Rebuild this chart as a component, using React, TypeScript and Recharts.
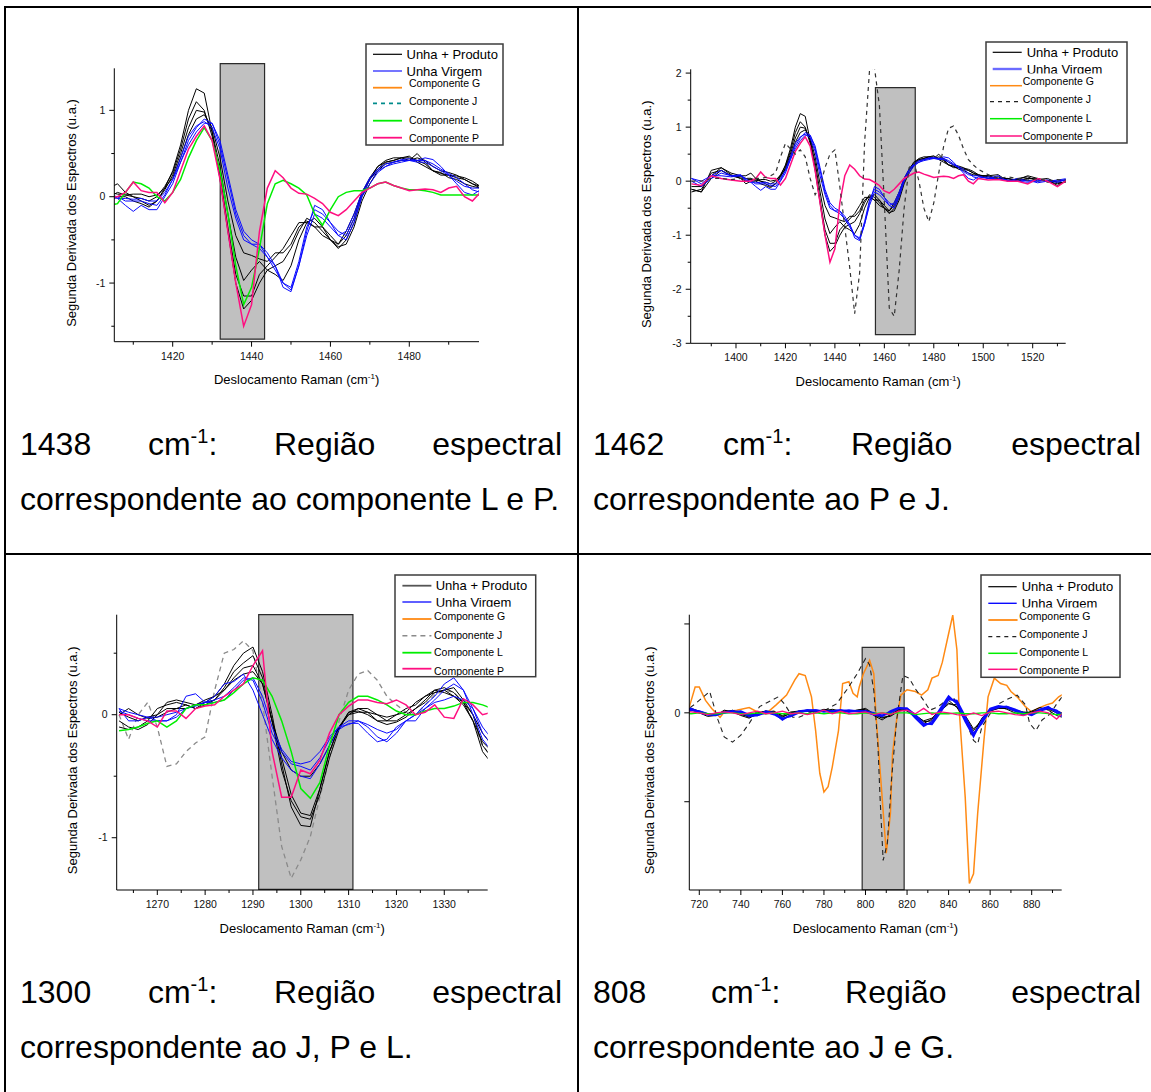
import React from "react";
import { Line, LineChart, ReferenceArea, XAxis, YAxis } from "recharts";

const FONT = "Arial, 'Liberation Sans', Helvetica, sans-serif";

const BLACK = "#000000";
const BLUE = "#0a0aff";
const GREEN = "#00ee00";
const PINK = "#ff0f80";
const ORANGE = "#ff8a14";
const TEAL = "#008b8b";
const GREY = "#8a8a8a";

// ---------- 1382–1534 cm-1 (painéis de 1438 e 1462 cm-1) ----------
const X_A = [
  1382, 1386, 1390, 1394, 1398, 1402,
  1404, 1406, 1408, 1410, 1412, 1414, 1416, 1418, 1420, 1422, 1424, 1426, 1428, 1430, 1432, 1434, 1436,
  1438, 1440, 1442, 1444, 1446, 1448, 1450, 1452, 1454, 1456, 1458, 1460, 1462, 1464, 1466, 1468,
  1470, 1472, 1474, 1476, 1478, 1480, 1482, 1484, 1486, 1488, 1490, 1492, 1494, 1496, 1498,
  1502, 1506, 1510, 1514, 1518, 1522, 1526, 1530, 1534,
];

// Unha + Produto
const PROD_A1 = [
  -0.15, -0.2, 0.2, 0.25, 0.15, 0.1,
  0.1, 0.15, 0.05, 0.0, -0.05, -0.1, -0.05, 0.1, 0.3, 0.6, 1.0, 1.25, 1.2, 0.75, 0.2, -0.4, -1.0,
  -1.3, -1.2, -1.0, -0.85, -0.8, -0.75, -0.6, -0.4, -0.25, -0.3, -0.4, -0.5, -0.6, -0.5, -0.3, 0.0,
  0.2, 0.35, 0.42, 0.45, 0.45, 0.42, 0.5, 0.4, 0.3, 0.27, 0.25, 0.22, 0.2, 0.15, 0.1,
  0.1, 0.05, 0.05, 0.0, 0.05, 0.05, 0.0, -0.05, 0.0,
];
const PROD_A2 = [
  -0.2, -0.15, 0.15, 0.2, 0.1, 0.05,
  0.0, 0.05, 0.02, 0.0, -0.02, -0.05, 0.0, 0.12, 0.28, 0.55, 0.9, 1.1, 1.0, 0.7, 0.25, -0.35, -0.9,
  -1.15, -1.15, -0.9, -0.8, -0.7, -0.6, -0.45, -0.3, -0.3, -0.35, -0.35, -0.45, -0.55, -0.45, -0.25, 0.05,
  0.22, 0.35, 0.4, 0.42, 0.45, 0.47, 0.4, 0.35, 0.3, 0.28, 0.22, 0.2, 0.15, 0.12, 0.1,
  0.1, 0.12, 0.0, 0.05, 0.08, 0.0, 0.02, -0.08, 0.02,
];
const PROD_A3 = [
  -0.1, -0.1, 0.1, 0.25, 0.12, 0.05,
  -0.05, 0.0, 0.0, -0.05, -0.08, -0.12, -0.05, 0.08, 0.25, 0.5, 0.8, 1.0, 0.98, 0.75, 0.35, -0.2, -0.7,
  -0.97, -0.85, -0.75, -0.85, -0.9, -0.97, -0.8, -0.5, -0.3, -0.25, -0.35, -0.5, -0.55, -0.4, -0.2, 0.05,
  0.2, 0.32, 0.4, 0.42, 0.45, 0.45, 0.42, 0.38, 0.3, 0.25, 0.25, 0.24, 0.22, 0.18, 0.12,
  0.05, 0.08, 0.02, 0.03, 0.1, 0.05, -0.02, 0.0, 0.03,
];
const PROD_A4 = [
  -0.15, -0.2, 0.05, 0.2, 0.1, 0.08,
  0.05, 0.03, 0.02, 0.03, 0.03, 0.0, 0.02, 0.1, 0.22, 0.45, 0.72, 0.9, 0.95, 0.8, 0.45, -0.05, -0.45,
  -0.65, -0.68, -0.72, -0.75, -0.65, -0.65, -0.55, -0.35, -0.28, -0.35, -0.45, -0.5, -0.58, -0.55, -0.35, -0.05,
  0.15, 0.3, 0.38, 0.4, 0.42, 0.42, 0.45, 0.42, 0.35, 0.3, 0.28, 0.25, 0.2, 0.15, 0.12,
  0.08, 0.05, 0.05, 0.02, 0.05, 0.03, 0.05, -0.03, -0.02,
];

// Unha Virgem
const VIRG_A1 = [
  0.05, -0.05, 0.1, 0.2, 0.1, 0.1,
  0.05, -0.02, -0.1, -0.17, -0.1, -0.15, -0.15, 0.0, 0.15, 0.4, 0.65, 0.8, 0.9, 0.85, 0.6, 0.2, -0.2,
  -0.45, -0.55, -0.55, -0.7, -0.8, -1.05, -1.1, -0.8, -0.4, -0.1, -0.15, -0.3, -0.45, -0.5, -0.3, 0.0,
  0.15, 0.28, 0.35, 0.4, 0.42, 0.42, 0.42, 0.45, 0.43, 0.35, 0.25, 0.15, 0.05, 0.02, 0.08,
  0.05, 0.1, 0.0, 0.0, -0.02, 0.0, 0.02, 0.0, 0.03,
];
const VIRG_A2 = [
  0.0, -0.1, 0.05, 0.15, 0.1, 0.12,
  0.02, 0.0, -0.05, -0.05, -0.05, -0.08, -0.1, 0.02, 0.2, 0.45, 0.7, 0.82, 0.87, 0.8, 0.55, 0.1, -0.25,
  -0.5, -0.55, -0.6, -0.7, -0.85, -1.0, -1.05, -0.75, -0.35, -0.15, -0.2, -0.3, -0.4, -0.45, -0.25, 0.02,
  0.2, 0.3, 0.35, 0.38, 0.4, 0.42, 0.4, 0.4, 0.35, 0.3, 0.25, 0.18, 0.12, 0.1, 0.1,
  0.05, 0.05, 0.02, 0.0, 0.02, -0.03, 0.0, 0.02, 0.05,
];
const VIRG_A3 = [
  0.05, 0.0, 0.1, 0.1, 0.08, 0.1,
  0.0, -0.02, -0.02, -0.03, -0.02, -0.05, -0.05, 0.05, 0.2, 0.4, 0.6, 0.75, 0.85, 0.85, 0.65, 0.25, -0.15,
  -0.4, -0.5, -0.55, -0.65, -0.8, -1.0, -1.08, -0.8, -0.45, -0.2, -0.25, -0.35, -0.45, -0.4, -0.2, 0.05,
  0.22, 0.32, 0.38, 0.4, 0.43, 0.44, 0.42, 0.42, 0.38, 0.32, 0.27, 0.22, 0.15, 0.08, 0.05,
  0.08, 0.05, 0.0, 0.05, 0.0, 0.02, 0.0, -0.02, 0.03,
];

const COMP_L_A = [
  null, null, null, null, null, null,
  -0.1, -0.08, 0.05, 0.17, 0.15, 0.1, 0.0, -0.05, 0.05, 0.2, 0.45, 0.65, 0.8, 0.65, 0.3, -0.2, -0.8,
  -1.25, -1.05, -0.6, -0.08, 0.15, 0.19, 0.15, 0.1, 0.02, -0.2, -0.33, -0.15, 0.0, 0.05, 0.07, 0.07,
  0.1, 0.15, 0.17, 0.13, 0.1, 0.08, 0.08, 0.07, 0.05, 0.02, 0.02, 0.02, 0.02, 0.02, 0.02,
  null, null, null, null, null, null, null, null, null,
];
const COMP_P_A = [
  -0.05, -0.08, 0.1, 0.05, 0.02, 0.0,
  0.0, 0.0, 0.05, 0.17, 0.07, 0.05, 0.05, -0.07, 0.05, 0.3, 0.55, 0.7, 0.82, 0.65, 0.2, -0.4, -1.0,
  -1.5, -1.25, -0.4, 0.1, 0.3, 0.22, 0.1, 0.04, 0.03, -0.02, -0.08, -0.18, -0.22, -0.15, -0.05, 0.05,
  0.1, 0.15, 0.17, 0.13, 0.1, 0.07, 0.08, 0.09, 0.08, 0.05, 0.1, 0.12, 0.0, -0.05, 0.05,
  0.02, 0.03, 0.0, 0.0, -0.05, 0.05, 0.0, -0.1, 0.02,
];
const COMP_J_A = [
  0.0, 0.0, 0.05, 0.05, 0.03, 0.05,
  0.05, 0.05, 0.05, 0.05, 0.07, 0.1, 0.15, 0.45, 0.7, 0.6, 0.5, 0.58, 0.45, 0.05, -0.25, -0.1, 0.25,
  0.5, 0.58, -0.1, -0.85, -1.6, -2.45, -1.7, 0.7, 2.05, 2.1, 1.4, -0.4, -2.35, -2.5, -1.65, -0.5,
  0.25, 0.35, 0.0, -0.5, -0.75, -0.4, 0.15, 0.65, 0.98, 1.02, 0.85, 0.6, 0.4, 0.3, 0.22,
  0.12, 0.05, 0.08, 0.05, 0.02, 0.05, 0.0, 0.03, 0.02,
];

// ---------- 1262–1340 cm-1 (painel de 1300 cm-1) ----------
const X_C = [
  1262, 1264, 1266, 1268, 1270, 1272, 1274, 1276, 1278, 1280,
  1282, 1284, 1286, 1288, 1290, 1292, 1294, 1296, 1298, 1300,
  1302, 1304, 1306, 1308, 1310, 1312, 1314, 1316, 1318, 1320,
  1322, 1324, 1326, 1328, 1330, 1332, 1334, 1336, 1338, 1340,
];
const PROD_C1 = [
  -0.05, -0.1, -0.12, -0.08, 0.0, 0.1, 0.12, 0.1, 0.08, 0.1,
  0.15, 0.25, 0.4, 0.5, 0.55, 0.35, 0.0, -0.4, -0.75, -0.9,
  -0.91, -0.6, -0.3, -0.1, 0.0, 0.05, 0.05, 0.0, -0.05, -0.05,
  0.0, 0.05, 0.12, 0.2, 0.22, 0.18, 0.1, -0.05, -0.3, -0.4,
];
const PROD_C2 = [
  -0.1, -0.12, -0.1, -0.05, 0.05, 0.08, 0.1, 0.08, 0.05, 0.08,
  0.12, 0.22, 0.35, 0.42, 0.48, 0.3, -0.05, -0.45, -0.7, -0.83,
  -0.85, -0.65, -0.35, -0.12, 0.02, 0.03, 0.0, -0.05, -0.08, -0.06,
  -0.02, 0.05, 0.1, 0.18, 0.2, 0.22, 0.12, 0.0, -0.25, -0.35,
];
const PROD_C3 = [
  0.02, -0.02, -0.05, -0.02, 0.0, 0.05, 0.05, 0.05, 0.08, 0.12,
  0.15, 0.2, 0.3, 0.38, 0.4, 0.25, -0.05, -0.35, -0.65, -0.8,
  -0.82, -0.6, -0.3, -0.1, 0.0, 0.02, 0.02, -0.05, -0.05, 0.0,
  0.05, 0.08, 0.15, 0.2, 0.18, 0.15, 0.08, -0.05, -0.22, -0.3,
];
const PROD_C4 = [
  0.0, 0.05, 0.0, -0.03, -0.02, 0.02, 0.05, 0.08, 0.05, 0.1,
  0.12, 0.2, 0.28, 0.33, 0.35, 0.25, -0.05, -0.3, -0.45, -0.5,
  -0.5, -0.4, -0.25, -0.1, 0.02, 0.05, 0.02, 0.0, -0.02, 0.0,
  0.02, 0.1, 0.15, 0.18, 0.2, 0.15, 0.1, 0.0, -0.15, -0.25,
];
const VIRG_C1 = [
  0.05, -0.05, -0.05, -0.02, -0.05, -0.05, 0.0, 0.15, 0.17, 0.1,
  0.15, 0.25, 0.27, 0.33, 0.2, 0.0, -0.2, -0.35, -0.45, -0.5,
  -0.52, -0.4, -0.25, -0.12, -0.07, -0.07, -0.15, -0.22, -0.2, -0.1,
  -0.05, 0.0, 0.08, 0.15, 0.25, 0.3, 0.2, 0.0, -0.2, -0.3,
];
const VIRG_C2 = [
  0.03, 0.0, -0.03, -0.05, -0.05, -0.05, -0.02, 0.05, 0.08, 0.1,
  0.12, 0.15, 0.22, 0.3, 0.28, 0.1, -0.15, -0.3, -0.4, -0.42,
  -0.45, -0.35, -0.2, -0.1, -0.05, -0.05, -0.1, -0.18, -0.22, -0.15,
  -0.05, -0.05, 0.05, 0.12, 0.2, 0.25, 0.2, 0.05, -0.15, -0.25,
];
const VIRG_C3 = [
  0.05, 0.02, 0.0, -0.02, -0.02, 0.0, 0.02, 0.05, 0.07, 0.1,
  0.1, 0.12, 0.2, 0.28, 0.3, 0.15, -0.1, -0.28, -0.38, -0.4,
  -0.38, -0.3, -0.18, -0.1, -0.08, -0.05, -0.08, -0.12, -0.15, -0.12,
  -0.05, 0.0, 0.05, 0.1, 0.12, 0.15, 0.12, 0.05, -0.1, -0.2,
];
const COMP_L_C = [
  -0.13, -0.12, -0.1, -0.07, -0.05, -0.1, -0.05, 0.05, 0.08, 0.08,
  0.1, 0.12, 0.18, 0.25, 0.3, 0.28, 0.15, -0.05, -0.3, -0.6,
  -0.68, -0.55, -0.25, 0.0, 0.1, 0.15, 0.15, 0.12, 0.08, 0.03,
  0.0, 0.0, 0.03, 0.05, 0.05, 0.07, 0.1, 0.1, 0.08, 0.05,
];
const COMP_P_C = [
  0.0, 0.0, -0.03, -0.05, -0.1, 0.03, 0.03, -0.03, 0.05, 0.07,
  0.08, 0.15, 0.2, 0.25, 0.4, 0.52, -0.3, -0.67, -0.67, -0.45,
  -0.48, -0.37, -0.15, 0.0, 0.07, 0.12, 0.12, 0.1, 0.09, 0.12,
  0.08, 0.0, 0.02, 0.08, -0.02, -0.03, 0.13, 0.08, 0.0, 0.02,
];
const COMP_J_C = [
  0.0, -0.2, 0.0, 0.1, -0.1, -0.42, -0.4, -0.3, -0.23, -0.18,
  0.2, 0.5, 0.53, 0.6, 0.52, 0.1, -0.5, -1.07, -1.33, -1.18,
  -0.99, -0.67, -0.35, -0.05, 0.2, 0.33, 0.36, 0.28, 0.15, 0.08,
  0.02, 0.0, 0.08, 0.16, 0.2, 0.18, 0.1, -0.05, -0.25, -0.35,
];

// ---------- 712–896 cm-1 (painel de 808 cm-1) ----------
const X_D = [
  712, 716, 720, 724, 728, 732, 736, 740, 744, 748,
  752, 756, 760, 764, 768, 772, 776, 780, 784, 788,
  792, 796, 800, 804, 808, 812, 816, 820, 824, 828,
  832, 836, 840, 844, 848, 852, 856, 860, 864, 868,
  872, 876, 880, 884, 888, 892, 896,
];
const PROD_D1 = [
  0.06, 0.04, 0.0, -0.04, -0.03, 0.03, 0.01, -0.03, -0.06, -0.01,
  0.02, 0.0, -0.05, 0.0, 0.01, 0.02, 0.01, 0.04, 0.02, 0.01,
  0.02, 0.03, 0.04, -0.03, -0.08, -0.02, 0.04, 0.02, -0.05, -0.12,
  -0.07, 0.04, 0.14, 0.06, -0.08, -0.24, -0.06, 0.04, 0.07, 0.04,
  0.0, -0.02, 0.02, 0.06, 0.03, -0.03, -0.06,
];
const PROD_D2 = [
  0.04, 0.03, 0.01, -0.02, -0.03, 0.02, 0.02, -0.02, -0.04, 0.0,
  0.02, 0.01, -0.03, 0.01, 0.02, 0.02, 0.02, 0.03, 0.03, 0.02,
  0.02, 0.02, 0.03, -0.02, -0.06, -0.03, 0.03, 0.03, -0.03, -0.09,
  -0.06, 0.03, 0.11, 0.07, -0.05, -0.2, -0.07, 0.03, 0.05, 0.05,
  0.02, 0.0, 0.01, 0.04, 0.04, 0.0, -0.03,
];
const PROD_D3 = [
  0.02, 0.05, 0.02, -0.01, -0.02, 0.0, 0.03, -0.01, -0.05, -0.02,
  0.01, 0.02, -0.04, -0.01, 0.02, 0.03, 0.02, 0.02, 0.04, 0.02,
  0.01, 0.03, 0.05, -0.01, -0.05, -0.04, 0.02, 0.04, -0.02, -0.1,
  -0.09, 0.02, 0.1, 0.09, -0.03, -0.18, -0.1, 0.02, 0.05, 0.06,
  0.03, 0.01, 0.0, 0.03, 0.05, 0.02, -0.01,
];
const VIRG_D1 = [
  0.03, 0.05, 0.01, -0.02, -0.03, 0.0, 0.02, 0.0, -0.04, -0.03,
  0.02, 0.0, -0.08, -0.02, 0.02, 0.03, 0.02, 0.02, 0.02, 0.03,
  0.02, 0.02, 0.01, -0.02, -0.04, 0.02, 0.06, 0.04, -0.06, -0.15,
  -0.1, 0.05, 0.19, 0.1, -0.1, -0.27, -0.08, 0.05, 0.08, 0.06,
  0.02, -0.02, -0.01, 0.04, 0.07, 0.0, -0.06,
];
const VIRG_D2 = [
  0.02, 0.03, 0.02, -0.01, -0.02, 0.01, 0.02, 0.01, -0.03, -0.02,
  0.01, -0.02, -0.07, -0.03, 0.01, 0.02, 0.03, 0.02, 0.01, 0.02,
  0.03, 0.02, 0.02, -0.01, -0.03, 0.01, 0.05, 0.05, -0.04, -0.13,
  -0.12, 0.03, 0.17, 0.12, -0.07, -0.25, -0.1, 0.04, 0.07, 0.07,
  0.03, -0.01, -0.02, 0.03, 0.06, 0.02, -0.05,
];
const VIRG_D3 = [
  0.04, 0.04, 0.0, -0.02, -0.01, 0.0, 0.01, 0.02, -0.02, -0.03,
  0.0, -0.01, -0.06, -0.04, 0.0, 0.03, 0.03, 0.01, 0.02, 0.03,
  0.01, 0.02, 0.02, 0.0, -0.03, 0.0, 0.05, 0.05, -0.02, -0.12,
  -0.13, 0.0, 0.15, 0.14, -0.04, -0.23, -0.12, 0.03, 0.06, 0.07,
  0.04, 0.0, -0.03, 0.02, 0.05, 0.03, -0.04,
];
const COMP_L_D = [
  0.0, -0.01, 0.0, -0.01, -0.01, 0.0, 0.0, -0.01, -0.01, 0.0,
  -0.01, 0.0, -0.01, -0.01, 0.0, -0.01, 0.0, -0.01, 0.0, 0.0,
  -0.01, -0.01, 0.0, -0.01, 0.0, -0.01, 0.0, 0.0, -0.02, -0.01,
  0.0, -0.01, -0.01, 0.0, -0.01, -0.01, 0.0, 0.0, -0.01, -0.01,
  0.0, -0.01, 0.0, 0.0, -0.01, -0.02, -0.01,
];
const COMP_P_D = [
  0.02, 0.01, 0.0, -0.02, 0.0, 0.01, 0.0, -0.02, 0.0, 0.02,
  -0.01, 0.0, 0.02, -0.01, 0.0, -0.02, 0.0, 0.03, -0.01, 0.02,
  -0.01, 0.0, 0.01, -0.02, 0.0, -0.02, 0.02, 0.03, -0.01, 0.05,
  -0.02, 0.01, 0.0, -0.02, -0.03, 0.0, -0.03, 0.01, 0.02, 0.0,
  -0.02, -0.03, 0.0, 0.02, 0.0, -0.07, 0.02,
];
const COMP_G_DX = [
  712, 715, 718, 720, 723, 726, 730, 732, 738, 744,
  748, 752, 757, 762, 766, 768, 771, 774, 776, 778,
  780, 782, 784, 787, 789, 792, 794, 796, 797, 799,
  802, 804, 805, 808, 810, 812, 813, 815, 817, 820,
  824, 827, 830, 832, 835, 837, 840, 842, 844, 845,
  848, 850, 852, 854, 857, 859, 862, 865, 868, 870,
  873, 877, 880, 883, 887, 890, 893, 896,
];
const COMP_G_D = [
  0.0, 0.05, 0.29, 0.29, 0.14, 0.05, -0.05, 0.01, 0.03, 0.06,
  0.01, -0.01, 0.09, 0.2, 0.37, 0.44, 0.42, 0.18, -0.2, -0.68,
  -0.89, -0.83, -0.61, -0.2, 0.33, 0.35, 0.22, 0.18, 0.29, 0.44,
  0.59, 0.44, -0.01, -0.95, -1.58, -1.13, -0.46, -0.08, 0.2, 0.26,
  0.24, 0.2, 0.26, 0.39, 0.42, 0.57, 0.89, 1.1, 0.71, 0.07,
  -0.95, -1.92, -1.81, -1.13, -0.31, 0.18, 0.39, 0.33, 0.31, 0.24,
  0.18, 0.07, 0.01, 0.05, 0.09, 0.11, 0.18, 0.22,
];
const COMP_J_DX = [
  712, 715, 718, 721, 725, 729, 732, 736, 740, 744,
  749, 753, 758, 761, 765, 768, 773, 779, 786, 791,
  796, 800, 802, 804, 806, 807, 808.5, 810.5, 812.5, 815,
  818, 821, 824, 828, 831, 835, 839, 842, 845, 848,
  852, 854, 856, 860, 864, 868, 873, 877, 879, 882,
  885, 889, 892, 896,
];
const COMP_J_D = [
  0.0, 0.05, 0.1, 0.16, 0.24, -0.08, -0.27, -0.33, -0.25, -0.12,
  0.07, 0.12, 0.18, 0.1, -0.05, -0.05, 0.0, 0.01, 0.1, 0.26,
  0.44, 0.61, 0.54, 0.25, -0.38, -0.95, -1.66, -1.47, -0.76, -0.08,
  0.42, 0.39, 0.27, 0.14, 0.03, 0.07, 0.14, 0.18, 0.07, -0.08,
  -0.31, -0.35, -0.16, -0.01, 0.1, 0.15, 0.2, 0.09, -0.12, -0.2,
  -0.08, -0.01, 0.1, 0.22,
];

const LEGEND_LABELS = [
  "Unha + Produto",
  "Unha Virgem",
  "Componente G",
  "Componente J",
  "Componente L",
  "Componente P",
];

type Series = { xs: number[]; ys: (number | null)[]; color: string; width: number; dash?: string };
type Panel = {
  box: { x: number; y: number; w: number; h: number };
  plot: { l: number; t: number; r: number; b: number };
  xDomain: [number, number];
  yDomain: [number, number];
  xMajor: number[];
  xMinor: number[];
  yMajor: number[];
  yMinor: number[];
  yLabelled: number[];
  yTitleDx: number;
  band: [number, number, number, number];
  series: Series[];
};

const samples = (xs: number[], prod: number[][], virg: number[][]): Series[] => [
  ...prod.map((ys) => ({ xs, ys, color: BLACK, width: 1 })),
  ...virg.map((ys) => ({ xs, ys, color: BLUE, width: 1 })),
];

const PANELS: Panel[] = [
  {
    box: { x: 10, y: 20, w: 560, h: 380 },
    plot: { l: 114.3, t: 68.3, r: 479, b: 341.7 },
    xDomain: [1405.19, 1497.68],
    yDomain: [-1.679, 1.487],
    xMajor: [1420, 1440, 1460, 1480],
    xMinor: [1410, 1430, 1450, 1470, 1490],
    yMajor: [-1, 0, 1],
    yMinor: [-1.5, -0.5, 0.5],
    yLabelled: [-1, 0, 1],
    yTitleDx: 42.6,
    band: [1432.05, 1443.3, -1.65, 1.54],
    series: [
      ...samples(X_A, [PROD_A1, PROD_A2, PROD_A3, PROD_A4], [VIRG_A1, VIRG_A2, VIRG_A3]),
      { xs: X_A, ys: COMP_L_A, color: GREEN, width: 1.5 },
      { xs: X_A, ys: COMP_P_A, color: PINK, width: 1.5 },
    ],
  },
  {
    box: { x: 585, y: 20, w: 560, h: 380 },
    plot: { l: 690.7, t: 69.3, r: 1065.7, b: 343.3 },
    xDomain: [1381.68, 1533.35],
    yDomain: [-3, 2.07],
    xMajor: [1400, 1420, 1440, 1460, 1480, 1500, 1520],
    xMinor: [1390, 1410, 1430, 1450, 1470, 1490, 1510, 1530],
    yMajor: [-3, -2, -1, 0, 1, 2],
    yMinor: [-2.5, -1.5, -0.5, 0.5, 1.5],
    yLabelled: [-3, -2, -1, 0, 1, 2],
    yTitleDx: 44,
    band: [1456.4, 1472.5, -2.84, 1.73],
    series: [
      ...samples(X_A, [PROD_A1, PROD_A2, PROD_A3, PROD_A4], [VIRG_A1, VIRG_A2, VIRG_A3]),
      { xs: X_A, ys: COMP_P_A, color: PINK, width: 1.5 },
      { xs: X_A, ys: COMP_J_A, color: "#333333", width: 1.2, dash: "4 4" },
    ],
  },
  {
    box: { x: 10, y: 565, w: 560, h: 380 },
    plot: { l: 116.7, t: 614.7, r: 487.7, b: 890 },
    xDomain: [1261.51, 1339.08],
    yDomain: [-1.425, 0.813],
    xMajor: [1270, 1280, 1290, 1300, 1310, 1320, 1330],
    xMinor: [1265, 1275, 1285, 1295, 1305, 1315, 1325, 1335],
    yMajor: [-1, 0],
    yMinor: [-0.5, 0.5],
    yLabelled: [-1, 0],
    yTitleDx: 44.4,
    band: [1291.2, 1310.9, -1.42, 0.813],
    series: [
      { xs: X_C, ys: COMP_J_C, color: GREY, width: 1.3, dash: "5 4" },
      ...samples(X_C, [PROD_C1, PROD_C2, PROD_C3, PROD_C4], [VIRG_C1, VIRG_C2, VIRG_C3]),
      { xs: X_C, ys: COMP_L_C, color: GREEN, width: 1.5 },
      { xs: X_C, ys: COMP_P_C, color: PINK, width: 1.5 },
    ],
  },
  {
    box: { x: 585, y: 565, w: 560, h: 380 },
    plot: { l: 689.3, t: 614.7, r: 1061.7, b: 890 },
    xDomain: [715.19, 894.44],
    yDomain: [-1.993, 1.104],
    xMajor: [720, 740, 760, 780, 800, 820, 840, 860, 880],
    xMinor: [730, 750, 770, 790, 810, 830, 850, 870, 890],
    yMajor: [-1, 0, 1],
    yMinor: [],
    yLabelled: [0],
    yTitleDx: 40.3,
    band: [798.4, 818.6, -1.99, 0.737],
    series: [
      { xs: COMP_G_DX, ys: COMP_G_D, color: ORANGE, width: 1.5 },
      { xs: COMP_J_DX, ys: COMP_J_D, color: "#222222", width: 1.1, dash: "5 4" },
      ...samples(X_D, [PROD_D1, PROD_D2, PROD_D3], [VIRG_D1, VIRG_D2, VIRG_D3]).map((s) =>
        s.color === BLUE ? { ...s, width: 1.6 } : s
      ),
      { xs: X_D, ys: COMP_L_D, color: GREEN, width: 1.3 },
      { xs: X_D, ys: COMP_P_D, color: PINK, width: 1.3 },
    ],
  },
];

type LegendRow = {
  color: string;
  width: number;
  dash?: string;
  x1: number;
  x2: number;
  lineY: number;
  textX: number;
  textY: number;
  size: number;
  clipY?: number;
};
type LegendSpec = { l: number; t: number; r: number; b: number; rows: LegendRow[] };

const LEGENDS: LegendSpec[] = [
  {
    l: 366, t: 44, r: 503, b: 145,
    rows: [
      { color: BLACK, width: 1.2, x1: 373, x2: 402, lineY: 54.3, textX: 406.5, textY: 54.3, size: 13 },
      { color: "#3a3aff", width: 1.4, x1: 373, x2: 402, lineY: 71, textX: 406.5, textY: 71, size: 13 },
      { color: ORANGE, width: 1.8, x1: 373, x2: 402, lineY: 87.7, textX: 409, textY: 83.3, size: 10.5 },
      { color: TEAL, width: 1.8, dash: "4 4", x1: 373, x2: 402, lineY: 103.3, textX: 409, textY: 101.3, size: 10.5 },
      { color: GREEN, width: 1.8, x1: 373, x2: 402, lineY: 120.7, textX: 409, textY: 120, size: 10.5 },
      { color: PINK, width: 1.8, x1: 373, x2: 402, lineY: 137.7, textX: 409, textY: 138.3, size: 10.5 },
    ],
  },
  {
    l: 986, t: 42, r: 1127, b: 143,
    rows: [
      { color: BLACK, width: 1.2, x1: 992.7, x2: 1021.7, lineY: 52.3, textX: 1026.7, textY: 52.3, size: 13 },
      { color: "#6b6bff", width: 2.4, x1: 992.7, x2: 1021.7, lineY: 69, textX: 1026.7, textY: 69, size: 13, clipY: 73.5 },
      { color: ORANGE, width: 1.5, x1: 990, x2: 1022, lineY: 85.7, textX: 1022.7, textY: 81.7, size: 10.5 },
      { color: "#222222", width: 1.3, dash: "4 4", x1: 990, x2: 1022, lineY: 101.7, textX: 1022.7, textY: 99.3, size: 10.5 },
      { color: GREEN, width: 1.5, x1: 990, x2: 1022, lineY: 118.7, textX: 1022.7, textY: 118.3, size: 10.5 },
      { color: PINK, width: 1.5, x1: 990, x2: 1022, lineY: 136, textX: 1022.7, textY: 136.7, size: 10.5 },
    ],
  },
  {
    l: 395.3, t: 575, r: 536, b: 676.7,
    rows: [
      { color: "#555555", width: 1.8, x1: 402.7, x2: 431.7, lineY: 585.7, textX: 436, textY: 585.7, size: 13 },
      { color: "#1a1aff", width: 1.4, x1: 402.7, x2: 431.7, lineY: 602, textX: 436, textY: 602, size: 13, clipY: 606.7 },
      { color: ORANGE, width: 1.8, x1: 402.7, x2: 431.7, lineY: 619, textX: 434.3, textY: 616, size: 10.5 },
      { color: GREY, width: 1.5, dash: "5 4", x1: 402.7, x2: 431.7, lineY: 635.7, textX: 434.3, textY: 635, size: 10.5 },
      { color: GREEN, width: 1.8, x1: 402.7, x2: 431.7, lineY: 652.7, textX: 434.3, textY: 652.7, size: 10.5 },
      { color: PINK, width: 1.8, x1: 402.7, x2: 431.7, lineY: 668.7, textX: 434.3, textY: 671.7, size: 10.5 },
    ],
  },
  {
    l: 981, t: 575, r: 1120, b: 677.3,
    rows: [
      { color: BLACK, width: 1.2, x1: 988.3, x2: 1016.7, lineY: 586.7, textX: 1021.7, textY: 586.7, size: 13 },
      { color: BLUE, width: 1.4, x1: 988.3, x2: 1016.7, lineY: 603.3, textX: 1021.7, textY: 603.3, size: 13, clipY: 607.5 },
      { color: ORANGE, width: 1.8, x1: 988.3, x2: 1017.5, lineY: 620, textX: 1019.3, textY: 616, size: 10.5 },
      { color: "#222222", width: 1.3, dash: "4 4", x1: 988.3, x2: 1017.5, lineY: 636.7, textX: 1019.3, textY: 634, size: 10.5 },
      { color: GREEN, width: 1.5, x1: 988.3, x2: 1017.5, lineY: 653.3, textX: 1019.3, textY: 652.7, size: 10.5 },
      { color: PINK, width: 1.5, x1: 988.3, x2: 1017.5, lineY: 669.3, textX: 1019.3, textY: 670.7, size: 10.5 },
    ],
  },
];

const CAPTIONS = [
  { x: 20, w: 542, base: 455, num: "1438", tail: "correspondente ao componente L e P." },
  { x: 593, w: 548, base: 455, num: "1462", tail: "correspondente ao P e J." },
  { x: 20, w: 542, base: 1003, num: "1300", tail: "correspondente ao J, P e L." },
  { x: 593, w: 548, base: 1003, num: "808", tail: "correspondente ao J e G." },
];

const toRows = (xs: number[], ys: (number | null)[]) => xs.map((x, i) => ({ x, y: ys[i] }));

function SpectrumPanel({ p }: { p: Panel }) {
  const { box, plot } = p;
  const Y_W = 50;
  const X_H = 50;
  const margin = {
    left: plot.l - box.x - Y_W,
    top: plot.t - box.y,
    right: box.x + box.w - plot.r,
    bottom: box.y + box.h - plot.b - X_H,
  };
  const xTicks = [...p.xMajor, ...p.xMinor].sort((a, b) => a - b);
  const yTicks = [...p.yMajor, ...p.yMinor].sort((a, b) => a - b);

  const xTitleX = (plot.l + plot.r) / 2 - box.x;
  const xTitleY = plot.b + 38 - box.y;
  const yTitleX = plot.l - p.yTitleDx - box.x;
  const yTitleY = (plot.t + plot.b) / 2 + 8 - box.y;

  const renderXTick = (props: any) => {
    const { x, y, payload } = props;
    const major = p.xMajor.includes(payload.value);
    return (
      <g>
        <line x1={x} x2={x} y1={y} y2={y + (major ? 5 : 3)} stroke="#000" strokeWidth={1} />
        {major && (
          <text x={x} y={y + 14.3} dy="0.35em" textAnchor="middle" fontSize={10.5} fontFamily={FONT} fill="#111">
            {payload.value}
          </text>
        )}
      </g>
    );
  };

  const renderYTick = (props: any) => {
    const { x, y, payload } = props;
    const major = p.yMajor.includes(payload.value);
    return (
      <g>
        <line x1={x} x2={x - (major ? 5 : 3)} y1={y} y2={y} stroke="#000" strokeWidth={1} />
        {p.yLabelled.includes(payload.value) && (
          <text x={x - 9} y={y} dy="0.35em" textAnchor="end" fontSize={10.5} fontFamily={FONT} fill="#111">
            {String(payload.value)}
          </text>
        )}
      </g>
    );
  };

  const renderXTitle = () => (
    <text x={xTitleX} y={xTitleY} dy="0.35em" textAnchor="middle" fontSize={13} fontFamily={FONT} fill="#000">
      Deslocamento Raman (cm
      <tspan fontSize={8} dy={-5}>
        -1
      </tspan>
      <tspan dy={5}>)</tspan>
    </text>
  );

  const renderYTitle = () => (
    <text
      x={yTitleX}
      y={yTitleY}
      dy="0.35em"
      transform={`rotate(-90 ${yTitleX} ${yTitleY})`}
      textAnchor="middle"
      fontSize={13}
      fontFamily={FONT}
      fill="#000"
    >
      Segunda Derivada dos Espectros (u.a.)
    </text>
  );

  return (
    <div style={{ position: "absolute", left: box.x, top: box.y }}>
      <LineChart width={box.w} height={box.h} margin={margin}>
        <ReferenceArea
          x1={p.band[0]}
          x2={p.band[1]}
          y1={p.band[2]}
          y2={p.band[3]}
          fill="#c0c0c0"
          fillOpacity={1}
          stroke="#2b2b2b"
          strokeWidth={1.2}
          ifOverflow="visible"
        />
        <XAxis
          type="number"
          dataKey="x"
          domain={p.xDomain}
          allowDataOverflow
          ticks={xTicks}
          interval={0}
          tickSize={0}
          tickMargin={0}
          tickLine={false}
          tick={renderXTick}
          axisLine={{ stroke: "#000", strokeWidth: 1 }}
          height={X_H}
          label={renderXTitle}
        />
        <YAxis
          type="number"
          domain={p.yDomain}
          allowDataOverflow
          ticks={yTicks}
          interval={0}
          tickSize={0}
          tickMargin={0}
          tickLine={false}
          tick={renderYTick}
          axisLine={{ stroke: "#000", strokeWidth: 1 }}
          width={Y_W}
          label={renderYTitle}
        />
        {p.series.map((s, i) => (
          <Line
            key={i}
            data={toRows(s.xs, s.ys)}
            dataKey="y"
            type="linear"
            stroke={s.color}
            strokeWidth={s.width}
            strokeDasharray={s.dash}
            dot={false}
            activeDot={false}
            isAnimationActive={false}
          />
        ))}
      </LineChart>
    </div>
  );
}

function LegendBox({ spec, id }: { spec: LegendSpec; id: string }) {
  const w = spec.r - spec.l;
  const h = spec.b - spec.t;
  return (
    <svg
      width={w}
      height={h}
      style={{ position: "absolute", left: spec.l, top: spec.t, overflow: "visible" }}
    >
      <g transform={`translate(${-spec.l},${-spec.t})`}>
        <rect x={spec.l} y={spec.t} width={w} height={h} fill="#fff" />
        {spec.rows.map((r, i) => (
          <g key={i}>
            {r.clipY !== undefined && (
              <clipPath id={`${id}-clip-${i}`}>
                <rect x={spec.l} y={spec.t} width={w} height={r.clipY - spec.t} />
              </clipPath>
            )}
            <line
              x1={r.x1}
              x2={r.x2}
              y1={r.lineY}
              y2={r.lineY}
              stroke={r.color}
              strokeWidth={r.width}
              strokeDasharray={r.dash}
            />
            <text
              x={r.textX}
              y={r.textY}
              dy="0.35em"
              fontSize={r.size}
              fontFamily={FONT}
              fill="#000"
              clipPath={r.clipY !== undefined ? `url(#${id}-clip-${i})` : undefined}
            >
              {LEGEND_LABELS[i]}
            </text>
          </g>
        ))}
        <rect x={spec.l} y={spec.t} width={w} height={h} fill="none" stroke="#3c3c3c" strokeWidth={1.5} />
      </g>
    </svg>
  );
}

const CAPTION_SIZE = 32;

function Caption({ c }: { c: (typeof CAPTIONS)[number] }) {
  const lineStyle: React.CSSProperties = {
    position: "absolute",
    left: c.x,
    width: c.w,
    fontSize: CAPTION_SIZE,
    lineHeight: `${CAPTION_SIZE}px`,
    whiteSpace: "nowrap",
    color: "#000",
  };
  return (
    <>
      <div style={{ ...lineStyle, top: c.base - 27, display: "flex", justifyContent: "space-between" }}>
        <span>{c.num}</span>
        <span>
          cm
          <span style={{ fontSize: 20, position: "relative", top: -12 }}>-1</span>:
        </span>
        <span>Região</span>
        <span>espectral</span>
      </div>
      <div style={{ ...lineStyle, top: c.base + 55 - 27 }}>{c.tail}</div>
    </>
  );
}

export default function App() {
  return (
    <div
      style={{
        position: "absolute",
        left: 0,
        top: 0,
        width: 1151,
        height: 1092,
        overflow: "hidden",
        background: "#fff",
        fontFamily: FONT,
      }}
    >
      {/* table rules */}
      <div style={{ position: "absolute", left: 4, top: 5.5, width: 1147, height: 2, background: "#000" }} />
      <div style={{ position: "absolute", left: 4, top: 5.5, width: 2, height: 1087, background: "#000" }} />
      <div style={{ position: "absolute", left: 577, top: 5.5, width: 2, height: 1087, background: "#000" }} />
      <div style={{ position: "absolute", left: 4, top: 553, width: 1147, height: 2, background: "#000" }} />

      {PANELS.map((p, i) => (
        <SpectrumPanel key={i} p={p} />
      ))}
      {LEGENDS.map((l, i) => (
        <LegendBox key={i} spec={l} id={`lg${i}`} />
      ))}
      {CAPTIONS.map((c, i) => (
        <Caption key={i} c={c} />
      ))}
    </div>
  );
}
